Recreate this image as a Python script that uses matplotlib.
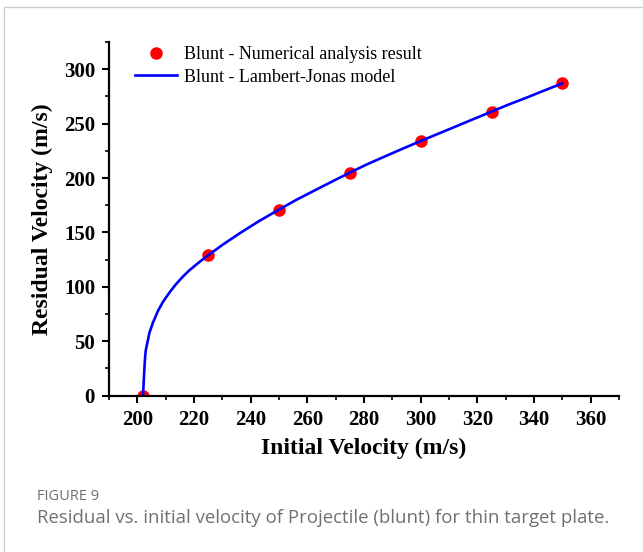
import matplotlib
matplotlib.use("Agg")
import matplotlib.pyplot as plt
from matplotlib.lines import Line2D
from matplotlib.ticker import MultipleLocator

# numerical analysis points (blunt projectile)
v_init = [202, 225, 250, 275, 300, 325, 350]
v_res = [0, 129, 171, 205, 234, 261, 287]

# Lambert-Jonas model curve
lj_x = [202.0, 202.2, 202.4, 202.6, 202.8, 203.0, 204.3, 205.5, 207.3,
        209.0, 211.4, 213.5, 216.1, 218.5, 222.0, 225.0, 230.0, 236.0, 243.0,
        250.0, 256.0, 262.5, 268.0, 275.0, 281.0, 287.5, 293.5, 300.0, 306.0,
        312.5, 318.5, 325.0, 331.0, 337.5, 343.5, 350.0]
lj_y = [0, 10, 20, 30, 37, 42, 58, 67, 78,
        86, 95, 102, 109.5, 115.5, 123, 129, 138.5, 149, 160.5,
        171, 179.8, 188.5, 195.8, 205, 212.5, 220, 226.8, 234, 240.5,
        247.5, 254, 261, 267.5, 274, 280.3, 287]

serif = ["Liberation Serif", "DejaVu Serif"]

fig = plt.figure(figsize=(6.43, 5.52), dpi=100)
ax = fig.add_axes([0.1695, 0.2832, 0.7932, 0.6407])

ax.plot(lj_x, lj_y, color="#0000ff", lw=1.9, label="Blunt - Lambert-Jonas model", zorder=2)
ax.plot(v_init, v_res, "o", color="#ff0000", ms=8, label="Blunt - Numerical analysis result",
        zorder=1)

ax.set_xlim(190, 370)
ax.set_ylim(0, 325)
ax.xaxis.set_major_locator(MultipleLocator(20))
ax.xaxis.set_minor_locator(MultipleLocator(10))
ax.yaxis.set_major_locator(MultipleLocator(50))
ax.yaxis.set_minor_locator(MultipleLocator(25))

for s in ["top", "right"]:
    ax.spines[s].set_visible(False)
for s in ["left", "bottom"]:
    ax.spines[s].set_linewidth(1.6)

ax.tick_params(which="major", direction="out", length=5, width=1.5, labelsize=15, pad=5)
ax.tick_params(which="minor", direction="out", length=3, width=1.2)
for lab in ax.get_xticklabels() + ax.get_yticklabels():
    lab.set_fontfamily(serif)
    lab.set_fontweight("bold")

ax.set_xlabel("Initial Velocity (m/s)", family=serif, fontweight="bold", fontsize=17, labelpad=6)
ax.set_ylabel("Residual Velocity (m/s)", family=serif, fontweight="bold", fontsize=17, labelpad=8)

handles = [Line2D([], [], ls="none", marker="o", color="#ff0000", ms=8),
           Line2D([], [], color="#0000ff", lw=1.9)]
labels = ["Blunt - Numerical analysis result", "Blunt - Lambert-Jonas model"]
ax.legend(handles, labels, loc="upper left", bbox_to_anchor=(0.02, 1.035), frameon=False,
          prop={"family": serif, "size": 13}, handlelength=2.3, handletextpad=0.4,
          labelspacing=0.32)

# page frame and caption
fig.add_artist(Line2D([4 / 643, 1], [1 - 7 / 552, 1 - 7 / 552], color="#cccccc", lw=1))
fig.add_artist(Line2D([4 / 643, 4 / 643], [0, 1 - 7 / 552], color="#cccccc", lw=1))
fig.text(37 / 643, 1 - 497 / 552, "FIGURE 9", family="Open Sans", fontsize=10.5,
         color="#707070", va="center")
fig.text(37 / 643, 1 - 518 / 552,
         "Residual vs. initial velocity of Projectile (blunt) for thin target plate.",
         family="Open Sans", fontsize=13.4, color="#707070", va="center")

fig.savefig("out.png", dpi=100)
